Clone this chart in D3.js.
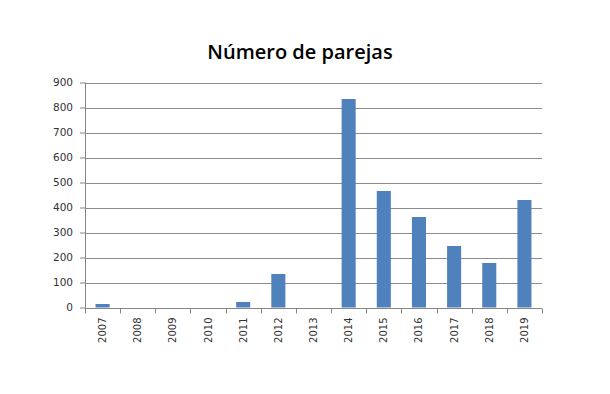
<!DOCTYPE html>
<html>
<head>
<meta charset="utf-8">
<script src="https://cdn.jsdelivr.net/npm/d3@7"></script>
<style>
  body { margin: 0; background: #fff; }
  svg { display: block; }
</style>
</head>
<body>
<div class="svg-container"></div>
<script>
const years = ['2007', '2008', '2009', '2010', '2011', '2012', '2013', '2014', '2015', '2016', '2017', '2018', '2019']
const parejas = [14, 0, 0, 0, 22, 134, 0, 834, 466, 362, 246, 178, 430]
const yTicks = [0, 100, 200, 300, 400, 500, 600, 700, 800, 900]

const width = 610
const height = 394
const plotLeft = 85
const plotRight = 542
const plotTop = 82.5
const plotBottom = 307.5
const labelFont = '"DejaVu Sans", Verdana, sans-serif'

const svg = d3.select('.svg-container')
  .append('svg')
  .attr('width', width)
  .attr('height', height)

const xScale = d3.scaleBand(years, [plotLeft, plotRight])
const yScale = d3.scaleLinear([0, 900], [plotBottom, plotTop])

// gridlines
svg.append('g')
  .selectAll('line')
  .data(yTicks.slice(1))
  .join('line')
  .attr('x1', plotLeft)
  .attr('x2', plotRight)
  .attr('y1', d => Math.round(yScale(d)) + 0.5)
  .attr('y2', d => Math.round(yScale(d)) + 0.5)
  .attr('stroke', '#8c8c8c')
  .attr('stroke-width', 1)

// bars
const barWidth = xScale.bandwidth() * 0.4
svg.append('g')
  .selectAll('rect')
  .data(years.map((year, i) => ({ year, value: parejas[i] })))
  .join('rect')
  .attr('x', d => xScale(d.year) + (xScale.bandwidth() - barWidth) / 2)
  .attr('width', barWidth)
  .attr('y', d => yScale(d.value))
  .attr('height', d => yScale(0) - yScale(d.value))
  .attr('fill', '#4f81bd')

const yAxis = d3.axisLeft(yScale)
  .tickValues(yTicks)
  .tickSize(5)
  .tickPadding(7)

const xAxis = d3.axisBottom(xScale)
  .tickSize(0)
  .tickPadding(0)

svg.append('g')
  .attr('transform', `translate(${plotLeft}, 0)`)
  .call(yAxis)
  .call(g => g.selectAll('.domain').attr('stroke', '#868686').attr('d', `M0.5,${plotTop}V${plotBottom + 0.5}`))
  .call(g => g.selectAll('.tick line').attr('stroke', '#868686'))
  .call(g => g.selectAll('.tick text')
    .attr('fill', '#333')
    .style('font-family', labelFont)
    .style('font-size', '10.5px'))

const xg = svg.append('g')
  .attr('transform', `translate(0, ${Math.round(plotBottom) + 0.5})`)
  .call(xAxis)

xg.select('.domain').attr('stroke', '#868686').attr('d', `M${plotLeft},0H${plotRight}`)

// tick marks at category boundaries
xg.selectAll('.boundary')
  .data(years.concat(['end']))
  .join('line')
  .attr('class', 'boundary')
  .attr('x1', (d, i) => Math.round(i < years.length ? xScale(d) : plotRight) + 0.5)
  .attr('x2', (d, i) => Math.round(i < years.length ? xScale(d) : plotRight) + 0.5)
  .attr('y1', 0)
  .attr('y2', 5)
  .attr('stroke', '#868686')

xg.selectAll('.tick text')
  .attr('transform', 'rotate(-90)')
  .attr('text-anchor', 'end')
  .attr('x', -9)
  .attr('y', 0)
  .attr('dy', '0.35em')
  .attr('fill', '#333')
  .style('font-family', labelFont)
  .style('font-size', '10px')

svg.append('text')
  .attr('x', 300)
  .attr('y', 59)
  .attr('text-anchor', 'middle')
  .style('font-family', '"Open Sans", sans-serif')
  .style('font-weight', '600')
  .style('font-size', '20px')
  .attr('fill', '#000')
  .text('Número de parejas')
</script>
</body>
</html>
